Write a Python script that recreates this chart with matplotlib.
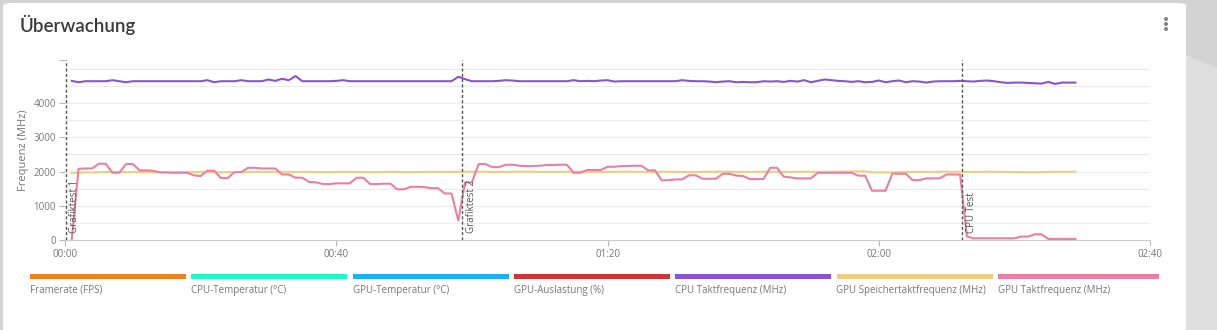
import matplotlib.pyplot as plt
from matplotlib.patches import FancyBboxPatch, Rectangle, Polygon, Ellipse

plt.rcParams['font.family'] = ['Open Sans', 'DejaVu Sans']

# Monitoring data, one sample per second
seconds = list(range(1, 150))

gpu_clock = [
    30, 2080, 2090, 2090, 2230, 2230, 1965, 1965, 2220, 2220,
    2035, 2035, 2025, 1975, 1975, 1965, 1965, 1965, 1890, 1870,
    2025, 2025, 1810, 1810, 1985, 1985, 2110, 2110, 2090, 2090,
    2090, 1915, 1915, 1820, 1820, 1695, 1685, 1635, 1635, 1655,
    1655, 1655, 1820, 1820, 1635, 1635, 1645, 1645, 1480, 1480,
    1555, 1555, 1545, 1515, 1515, 1360, 1360, 565, 1685, 1685,
    2220, 2220, 2130, 2130, 2200, 2200, 2170, 2160, 2160, 2170,
    2190, 2190, 2200, 2200, 1965, 1965, 2045, 2045, 2045, 2140,
    2140, 2160, 2160, 2170, 2170, 2035, 2035, 1740, 1750, 1770,
    1770, 1890, 1890, 1790, 1790, 1790, 1935, 1935, 1880, 1870,
    1780, 1780, 1780, 2110, 2110, 1850, 1830, 1800, 1800, 1800,
    1965, 1965, 1965, 1965, 1965, 1965, 1880, 1880, 1440, 1440,
    1440, 1940, 1935, 1935, 1750, 1750, 1800, 1800, 1800, 1915,
    1915, 1915, 100, 50, 50, 50, 50, 50, 50, 50,
    100, 100, 165, 165, 30, 30, 30, 30, 30,
]

cpu_clock = [
    4650, 4610, 4640, 4640, 4640, 4640, 4670, 4640, 4610, 4640,
    4640, 4640, 4640, 4640, 4640, 4640, 4640, 4640, 4640, 4640,
    4670, 4610, 4640, 4640, 4640, 4670, 4640, 4640, 4640, 4690,
    4650, 4710, 4670, 4790, 4640, 4640, 4640, 4640, 4640, 4650,
    4670, 4640, 4640, 4640, 4640, 4640, 4640, 4640, 4640, 4640,
    4640, 4640, 4640, 4640, 4640, 4640, 4640, 4770, 4700, 4640,
    4640, 4640, 4640, 4650, 4670, 4660, 4640, 4640, 4640, 4640,
    4640, 4640, 4640, 4640, 4670, 4640, 4650, 4640, 4660, 4670,
    4630, 4640, 4640, 4640, 4640, 4640, 4640, 4640, 4640, 4640,
    4670, 4650, 4640, 4640, 4630, 4610, 4630, 4640, 4610, 4620,
    4610, 4610, 4640, 4630, 4640, 4620, 4650, 4630, 4670, 4610,
    4650, 4690, 4670, 4650, 4640, 4620, 4640, 4610, 4620, 4660,
    4610, 4640, 4660, 4610, 4640, 4630, 4600, 4630, 4640, 4640,
    4640, 4650, 4640, 4630, 4650, 4660, 4640, 4610, 4590, 4600,
    4600, 4590, 4580, 4570, 4620, 4560, 4600, 4600, 4600,
]

gpu_mem_clock = [
    1960, 1975, 1975, 1980, 1980, 1985, 1990, 1990, 1985, 1985,
    1985, 1985, 1980, 1980, 1980, 1980, 1980, 1985, 1985, 1985,
    1985, 1980, 1980, 1985, 1985, 1985, 1985, 1990, 1990, 1990,
    1990, 1985, 1985, 1990, 1990, 1990, 1985, 1985, 1985, 1990,
    1990, 1990, 1990, 1985, 1985, 1985, 1990, 1990, 1990, 1985,
    1985, 1985, 1990, 1990, 1990, 1990, 1990, 1990, 1995, 1995,
    1995, 1995, 1990, 1990, 1990, 1995, 1995, 1995, 1995, 1990,
    1990, 1990, 1990, 1995, 1995, 1995, 1995, 1990, 1990, 1990,
    1995, 1995, 1995, 1995, 1990, 1990, 1990, 1995, 1995, 1995,
    1990, 1990, 1990, 1990, 1995, 1995, 1995, 1995, 1990, 1990,
    1990, 1995, 1995, 1995, 1990, 1990, 1990, 1995, 1995, 1995,
    1990, 1990, 1995, 1995, 2000, 2000, 2005, 2005, 1980, 1975,
    1975, 1975, 1985, 1985, 1990, 1990, 1990, 1990, 1995, 1995,
    1995, 1995, 1990, 1990, 1990, 1995, 1995, 1990, 1990, 1985,
    1985, 1980, 1980, 1985, 1990, 1995, 1995, 1995, 1995,
]

# Test phase markers (seconds)
marker_times = [0.1, 58.6, 132.3]
marker_labels = ['Grafiktest 1', 'Grafiktest 2', 'CPU Test']

x_ticks = [0, 40, 80, 120, 160]
x_tick_labels = ['00:00', '00:40', '01:20', '02:00', '02:40']
y_ticks = [0, 1000, 2000, 3000, 4000]

legend_names = ['Framerate (FPS)', 'CPU-Temperatur (°C)', 'GPU-Temperatur (°C)',
                'GPU-Auslastung (%)', 'CPU Taktfrequenz (MHz)',
                'GPU Speichertaktfrequenz (MHz)', 'GPU Taktfrequenz (MHz)']
legend_colors = ['#f07f1e', '#1cf7c6', '#1ab2f7', '#d13434', '#8c52cf',
                 '#ebcf80', '#ea7fa5']

W, H = 1217, 330
fig = plt.figure(figsize=(W / 100, H / 100), dpi=100)
fig.patch.set_facecolor('#d3d3d3')


def px(x, y):
    return x / W, 1 - y / H


# background shapes and card
fig.patches.append(Polygon([px(1186, 55), px(1217, 68), px(1217, 330), px(1186, 330)],
                           closed=True, transform=fig.transFigure,
                           facecolor='#dedede', edgecolor='none', zorder=0))
x0, y0 = px(3, 3)
x1, y1 = px(1186, 340)
fig.patches.append(FancyBboxPatch((x0, y1), x1 - x0, y0 - y1,
                                  boxstyle='round,pad=0,rounding_size=0.008',
                                  transform=fig.transFigure, facecolor='white',
                                  edgecolor='none', zorder=1))

fig.text(*px(20, 25), 'Überwachung', fontsize=13.5, color='#3a3a3a',
         family=['Lato', 'DejaVu Sans'], fontweight='semibold', va='center', ha='left')
# menu dots
for dy in (19, 24, 29):
    fig.patches.append(Ellipse(px(1166, dy), 4.2 / W, 4.2 / H, transform=fig.transFigure,
                               facecolor='#8a8a8a', edgecolor='none', zorder=3))

ax = fig.add_axes([65 / W, 1 - 240 / H, (1150 - 65) / W, 180 / H])
ax.set_facecolor('none')
ax.set_zorder(2)

for v in range(500, 5001, 500):
    ax.axhline(v, color='#ececec', lw=0.9, zorder=0)

ax.plot(seconds, cpu_clock, color=legend_colors[4], lw=1.5, zorder=3)
ax.plot(seconds, gpu_mem_clock, color=legend_colors[5], lw=1.5, zorder=3)
ax.plot(seconds, gpu_clock, color=legend_colors[6], lw=1.5, zorder=4)

for t, label in zip(marker_times, marker_labels):
    ax.axvline(t, color='#555555', lw=1, linestyle=(0, (2.2, 1.6)), zorder=5)
    ax.text(t + 0.5, 200, label, rotation=90, fontsize=7, color='#555555',
            ha='left', va='bottom', zorder=6)

ax.set_xlim(0, 160)
ax.set_ylim(0, 5260)
ax.set_xticks(x_ticks)
ax.set_xticklabels(x_tick_labels)
ax.set_yticks(y_ticks + [5260])
ax.set_yticklabels([str(v) for v in y_ticks] + [''])
ax.tick_params(axis='both', labelsize=7, colors='#bbbbbb', labelcolor='#777777',
               length=4.5, width=0.8, pad=2)

for side in ('top', 'right', 'left'):
    ax.spines[side].set_visible(False)
ax.spines['bottom'].set_color('#cccccc')

ax.set_ylabel('Frequenz (MHz)', fontsize=8, color='#777777', labelpad=3)

# legend strip below the plot
for i, (name, color) in enumerate(zip(legend_names, legend_colors)):
    left = 30 + i * 161.3
    width = 156 if i < len(legend_names) - 1 else 1159 - left
    bx, by = px(left, 279)
    fig.patches.append(Rectangle((bx, by), width / W, 5 / H, transform=fig.transFigure,
                                 facecolor=color, edgecolor='none', zorder=3))
    fig.text(*px(left, 290), name, fontsize=7, color='#777777',
             ha='left', va='center', zorder=3)

fig.savefig('out.png', dpi=100, facecolor=fig.get_facecolor())
